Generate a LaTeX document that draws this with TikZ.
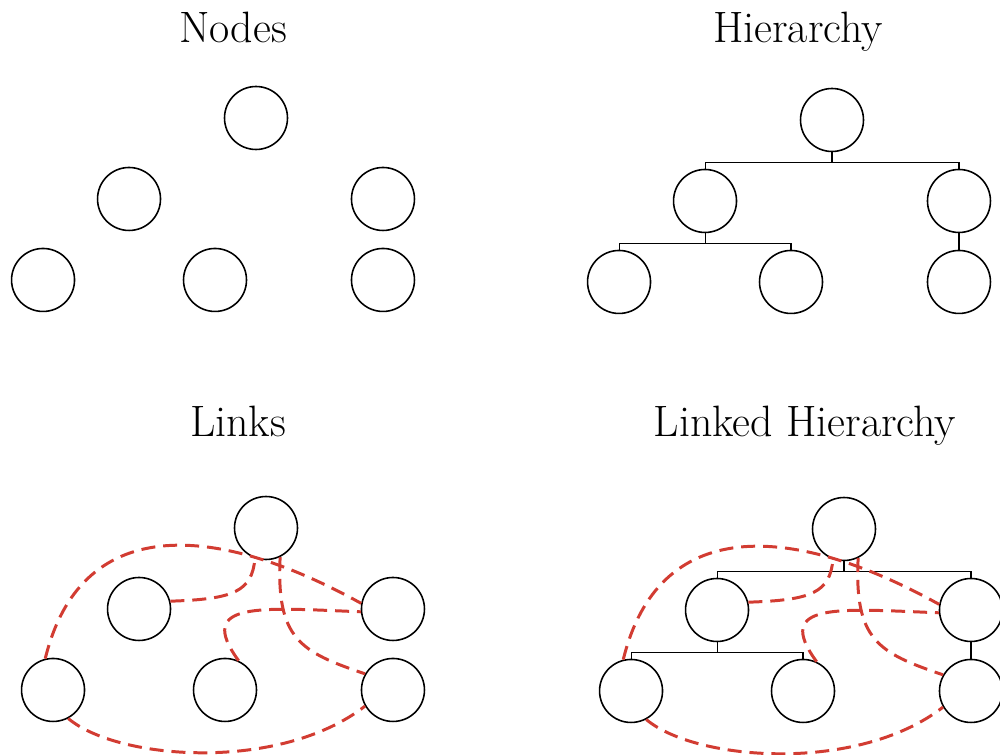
\documentclass[tikz,border=0pt]{standalone}
\usetikzlibrary{positioning}
\definecolor{linkred}{RGB}{210,60,50}
\tikzset{
unit/.style={circle, draw, line width=0.9pt, minimum size=1.26cm, inner sep=0pt}, % one node of the diagram
tree/.style={line width=0.6pt}, % black parent-child lines
link/.style={draw=linkred, line width=1.7pt, dash pattern=on 8pt off 4.5pt}, % red dashed links
paneltitle/.style={font=\fontsize{25}{30}\selectfont, anchor=base}, % heading of each panel
node distance=1.62cm and 2.54cm, % row gap and gap from the top node
on grid,
}

\begin{document}
\begin{tikzpicture}[x=0.02cm, y=0.02cm]
    \useasboundingbox (0,0) rectangle (1000,754);

    % Nodes
    \node[paneltitle] (ntitle) at (233,711) {Nodes};
    \node[unit] (ntop) at (256,636) {};
    \node[unit, below left=of ntop] (nml) {};
    \node[unit, below right=of ntop] (nmr) {};
    \node[unit, below left=1.62cm and 1.72cm of nml] (nbl) {};
    \node[unit, below right=1.62cm and 1.72cm of nml] (nbm) {};
    \node[unit, below=of nmr] (nbr) {};

    % Hierarchy
    \node[paneltitle] (htitle) at (798,711) {Hierarchy};
    \node[unit] (htop) at (832,634) {};
    \node[unit, below left=of htop] (hml) {};
    \node[unit, below right=of htop] (hmr) {};
    \node[unit, below left=1.62cm and 1.72cm of hml] (hbl) {};
    \node[unit, below right=1.62cm and 1.72cm of hml] (hbm) {};
    \node[unit, below=of hmr] (hbr) {};
    \draw[tree] (htop.south) -- ++(0,-10) coordinate (hbar1);
    \draw[tree] (hml.north) |- (hbar1) -| (hmr.north);
    \draw[tree] (hml.south) -- ++(0,-10) coordinate (hbar2);
    \draw[tree] (hbl.north) |- (hbar2) -| (hbm.north);
    \draw[tree] (hmr.south) -- (hbr.north);

    % Links
    \node[paneltitle] (ltitle) at (238,317) {Links};
    \node[unit] (ltop) at (266,226) {};
    \node[unit, below left=of ltop] (lml) {};
    \node[unit, below right=of ltop] (lmr) {};
    \node[unit, below left=1.62cm and 1.72cm of lml] (lbl) {};
    \node[unit, below right=1.62cm and 1.72cm of lml] (lbm) {};
    \node[unit, below=of lmr] (lbr) {};
    \draw[link] (lbl.104) .. controls +(35,143) and +(-150,83) .. (lmr.170);
    \draw[link] (lml.14) .. controls +(64,2) and +(-3,-33) .. (ltop.250);
    \draw[link] (lbm.65) .. controls +(-44,60) and +(-101,4) .. (lmr.185);
    \draw[link] (ltop.296) .. controls +(-4,-82) and +(-65,22) .. (lbr.150);
    \draw[link] (lbl.298) .. controls +(50,-42) and +(-85,-66) .. (lbr.210);

    % Linked Hierarchy
    \node[paneltitle] (ktitle) at (805,317) {Linked Hierarchy};
    \node[unit] (ktop) at (844,225) {};
    \node[unit, below left=of ktop] (kml) {};
    \node[unit, below right=of ktop] (kmr) {};
    \node[unit, below left=1.62cm and 1.72cm of kml] (kbl) {};
    \node[unit, below right=1.62cm and 1.72cm of kml] (kbm) {};
    \node[unit, below=of kmr] (kbr) {};
    \draw[tree] (ktop.south) -- ++(0,-10) coordinate (kbar1);
    \draw[tree] (kml.north) |- (kbar1) -| (kmr.north);
    \draw[tree] (kml.south) -- ++(0,-10) coordinate (kbar2);
    \draw[tree] (kbl.north) |- (kbar2) -| (kbm.north);
    \draw[tree] (kmr.south) -- (kbr.north);
    \draw[link] (kbl.104) .. controls +(35,143) and +(-150,83) .. (kmr.170);
    \draw[link] (kml.14) .. controls +(64,2) and +(-3,-33) .. (ktop.250);
    \draw[link] (kbm.65) .. controls +(-44,60) and +(-101,4) .. (kmr.185);
    \draw[link] (ktop.296) .. controls +(-4,-82) and +(-65,22) .. (kbr.150);
    \draw[link] (kbl.298) .. controls +(50,-42) and +(-85,-66) .. (kbr.210);
\end{tikzpicture}
\end{document}
